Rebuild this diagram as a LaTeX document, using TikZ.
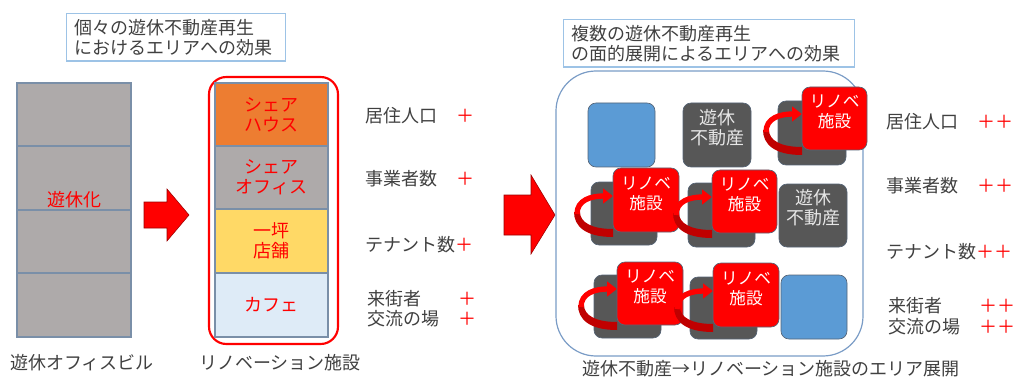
\documentclass[tikz,border=0pt]{standalone}
\usepackage{fontspec}
\setmainfont{Noto Sans CJK JP}
\usetikzlibrary{fit,calc,arrows.meta}
\definecolor{txt}{HTML}{404040}
\definecolor{bldg}{HTML}{AEAAAA}
\definecolor{edge}{HTML}{7A8FA8}
\definecolor{orng}{HTML}{ED7D31}
\definecolor{yel}{HTML}{FFD966}
\definecolor{ltblue}{HTML}{DEEBF7}
\definecolor{bsq}{HTML}{5B9BD5}
\definecolor{dsq}{HTML}{575757}
\definecolor{tbord}{HTML}{9DC3E6}
\definecolor{bigb}{HTML}{7A9CC6}
\definecolor{dkred}{HTML}{C00000}
\definecolor{ltxt}{HTML}{E6E6E6}
\begin{document}
\begin{tikzpicture}[x=0.75pt,y=-0.75pt,
  every node/.style={font=\fontsize{13.5}{15}\selectfont, text=txt},
  floor/.style={draw=edge, line width=1pt, inner sep=0pt},
  titlebox/.style={draw=tbord, line width=0.9pt, anchor=north west, align=left, inner xsep=5.6pt, inner ysep=3pt, minimum height=35.5pt},
  sq/.style={rounded corners=6pt, inner sep=0pt, draw=edge!70!black, line width=0.5pt},
  blue sq/.style={sq, fill=bsq},
  dark sq/.style={sq, fill=dsq, text=ltxt, align=center},
  reno/.style={sq, fill=red, text=white, align=center, font=\fontsize{12.5}{15}\selectfont},
  lbl/.style={anchor=west},
  plus/.style={anchor=west, text=red},
  redtxt/.style={text=red, align=center},
  blockarrow/.style={fill=red, draw=red!60!black, line width=0.4pt}
]
\useasboundingbox (0,0) rectangle (1015,378);

% ---------- left part ----------
\node[titlebox, text width=153pt] (t1) at (66,13) {個々の遊休不動産再生\\におけるエリアへの効果};

\node[floor, fill=bldg, fit={(17,83)(131,146)}] (f1) {};
\node[floor, fill=bldg, fit={(17,146)(131,210)}] (f2) {};
\node[floor, fill=bldg, fit={(17,210)(131,273)}] (f3) {};
\node[floor, fill=bldg, fit={(17,273)(131,337)}] (f4) {};
\node[text=red] (idle) at (74,200) {遊休化};
\node (lab1) at (82,363) {遊休オフィスビル};

\draw[blockarrow] (144,202) -- (167,202) -- (167,189) -- (189,215) -- (167,241) -- (167,228) -- (144,228) -- cycle;

\node[draw=red, line width=1.6pt, rounded corners=13pt, inner sep=0pt, fit={(209,77)(338,344)}] (rb) {};
\node[floor, fill=orng, fit={(215,83)(328,146)}] (g1) {};
\node[floor, fill=bldg, fit={(215,146)(328,209)}] (g2) {};
\node[floor, fill=yel, fit={(215,209)(328,273)}] (g3) {};
\node[floor, fill=ltblue, fit={(215,273)(328,337)}] (g4) {};
\node[redtxt] (g1t) at (g1.center) {シェア\\ハウス};
\node[redtxt] (g2t) at (g2.center) {シェア\\オフィス};
\node[redtxt] (g3t) at (g3.center) {一坪\\店舗};
\node[redtxt] (g4t) at (g4.center) {カフェ};
\node (lab2) at (280,363) {リノベーション施設};

\node[lbl] (a1) at (361,116) {居住人口};
\node[plus] (p1) at (452,116) {＋};
\node[lbl] (a2) at (361,179) {事業者数};
\node[plus] (p2) at (452,179) {＋};
\node[lbl] (a3) at (361,245) {テナント数\textcolor{red}{＋}};
\node[lbl] (a4) at (363,299) {来街者};
\node[plus] (p4) at (454,299) {＋};
\node[lbl] (a5) at (363,319) {交流の場};
\node[plus] (p5) at (454,319) {＋};

% ---------- right part ----------
\node[titlebox, text width=207pt] (t2) at (563,19) {複数の遊休不動産再生\\の面的展開によるエリアへの効果};

\draw[blockarrow] (504,195) -- (531,195) -- (531,175) -- (555,215) -- (531,254) -- (531,235) -- (504,235) -- cycle;

\node[draw=bigb, line width=0.9pt, rounded corners=30pt, inner sep=0pt, fit={(556,71)(863,356)}] (area) {};

\node[blue sq, fit={(588,103)(655,167)}] (b1) {};
\node[dark sq, fit={(683,103)(751,167)}] (v1) {遊休\\不動産};
\node[dark sq, fit={(779,184)(847,247)}] (v2) {遊休\\不動産};
\node[blue sq, fit={(781,275)(847,339)}] (b2) {};

\node[dark sq, fit={(778,101)(846,165)}] (d0) {};
\node[dark sq, fit={(591,182)(657,245)}] (d1) {};
\node[dark sq, fit={(688,183)(755,247)}] (d2) {};
\node[dark sq, fit={(594,275)(661,338)}] (d3) {};
\node[dark sq, fit={(690,277)(757,339)}] (d4) {};

\newcommand{\curlarrow}[1]{%
  \fill[dkred] ($(#1)+(0,37)$) .. controls ($(#1)+(-28,37)$) and ($(#1)+(-39,26)$) .. ($(#1)+(-39,12)$)
     -- ($(#1)+(-33,12)$) .. controls ($(#1)+(-33,22)$) and ($(#1)+(-22,29)$) .. ($(#1)+(0,29)$) -- cycle;
  \draw[red, line width=4pt, -{Triangle[width=11pt,length=7.5pt]}] ($(#1)+(-36,14)$) .. controls ($(#1)+(-36,0)$) and ($(#1)+(-22,-4)$) .. ($(#1)+(0,-4)$);
}

\coordinate (w0) at (802,118);
\curlarrow{w0}
\node[reno, fit={(802,87)(867,150)}] (r0) {リノベ\\施設};
\coordinate (w1) at (613,200);
\curlarrow{w1}
\node[reno, fit={(613,168)(679,232)}] (r1) {リノベ\\施設};
\coordinate (w2) at (712,201);
\curlarrow{w2}
\node[reno, fit={(712,170)(777,233)}] (r2) {リノベ\\施設};
\coordinate (w3) at (617,293);
\curlarrow{w3}
\node[reno, fit={(617,262)(683,325)}] (r3) {リノベ\\施設};
\coordinate (w4) at (713,295);
\curlarrow{w4}
\node[reno, fit={(713,263)(779,327)}] (r4) {リノベ\\施設};

\node[lbl] (c1) at (882,122) {居住人口};
\node[plus] (q1) at (973,122) {＋＋};
\node[lbl] (c2) at (882,186) {事業者数};
\node[plus] (q2) at (973,186) {＋＋};
\node[lbl] (c3) at (882,252) {テナント数\textcolor{red}{＋＋}};
\node[lbl] (c4) at (884,306) {来街者};
\node[plus] (q4) at (975,306) {＋＋};
\node[lbl] (c5) at (884,327) {交流の場};
\node[plus] (q5) at (975,327) {＋＋};

\node (lab3) at (771,369) {遊休不動産→リノベーション施設のエリア展開};
\end{tikzpicture}
\end{document}
